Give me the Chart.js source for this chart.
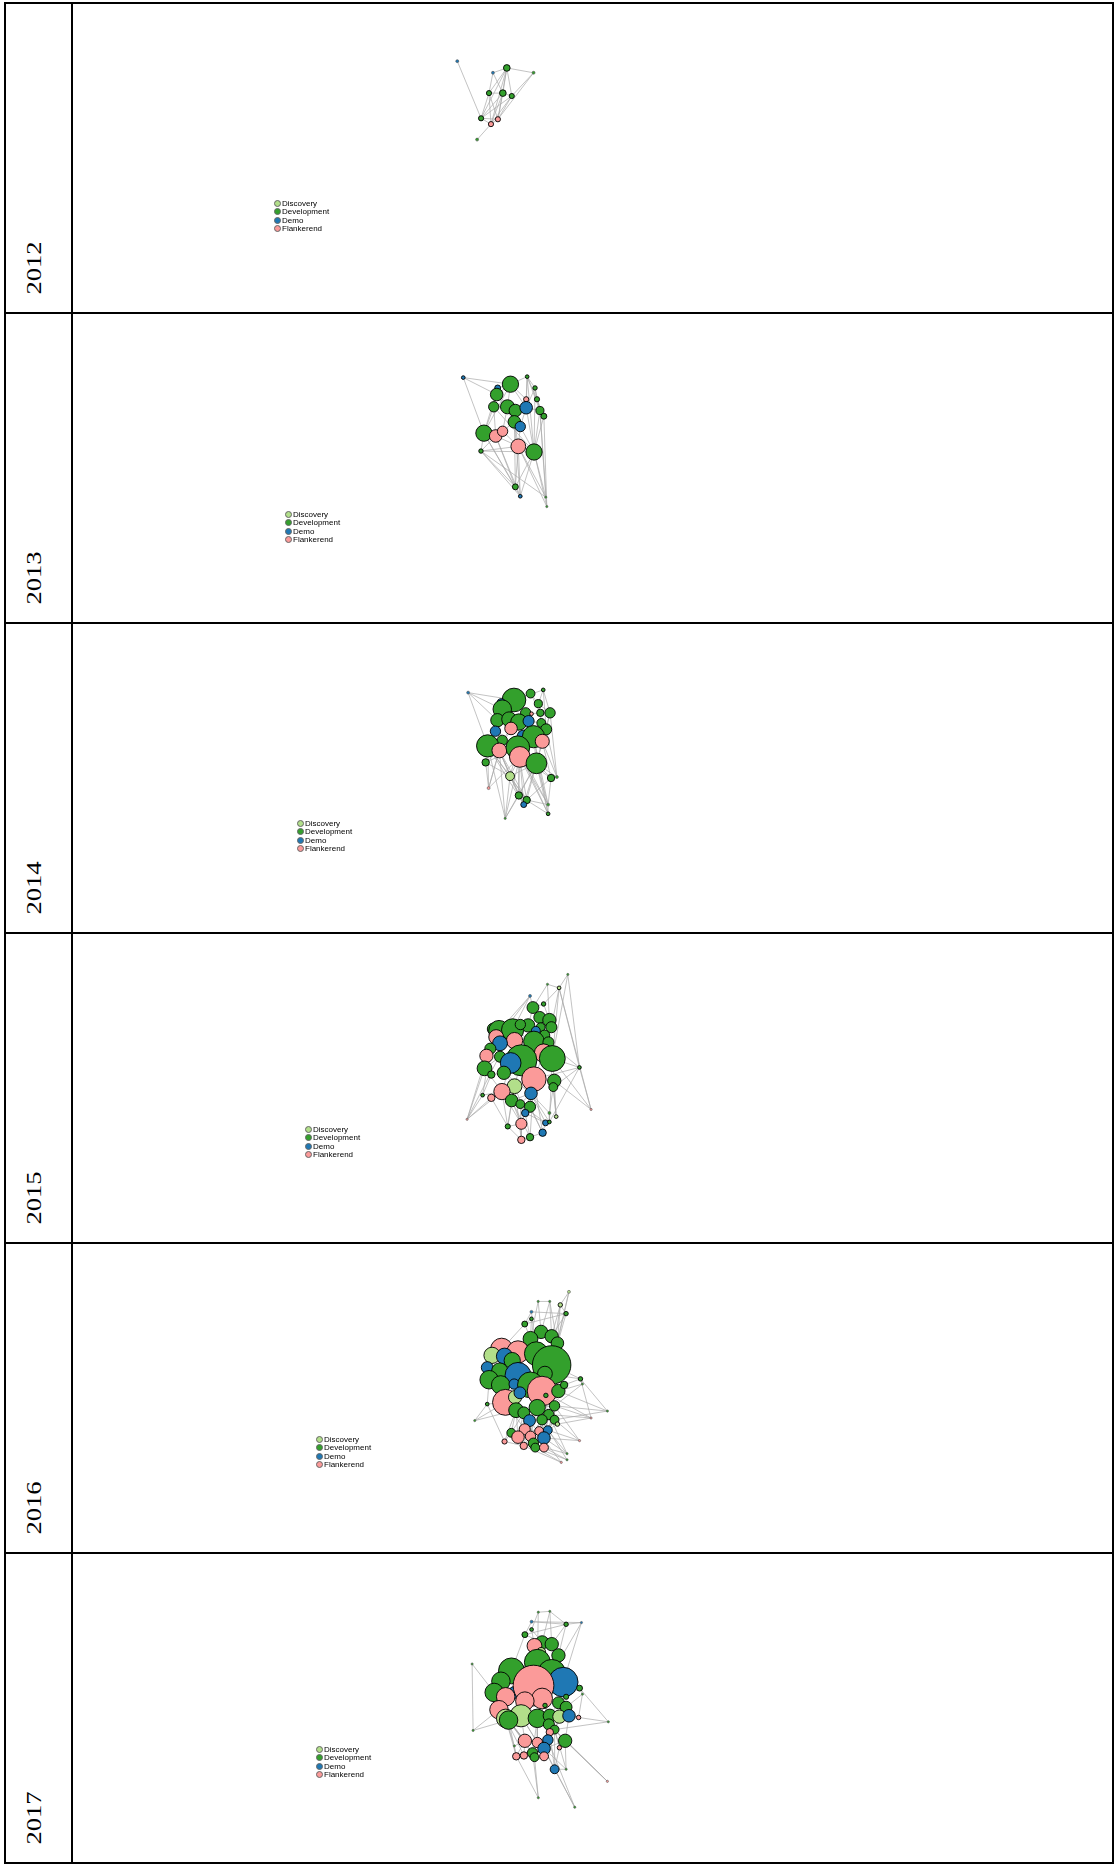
<!DOCTYPE html>
<html>
<head>
<meta charset="utf-8">
<script src="https://cdn.jsdelivr.net/npm/chart.js@4.4.1/dist/chart.umd.min.js"></script>
<style>
body{margin:0;background:#fff;}
#page{position:relative;width:1116px;height:1865px;overflow:hidden;}
.ln{position:absolute;background:#000;z-index:5;}
.pn{position:absolute;left:72px;width:1041px;height:310px;}
.yr{position:absolute;width:60px;height:24px;line-height:24px;text-align:center;font-family:"Liberation Serif","Times New Roman",serif;font-size:20px;color:#000;transform:rotate(-90deg) scaleX(1.33);}
.lg{position:absolute;font-family:"Liberation Sans",Arial,sans-serif;font-size:8px;line-height:8.3px;color:#000;z-index:3;}
.lg div{white-space:nowrap;}
.lg span{display:inline-block;width:7px;height:7px;border-radius:50%;border:0.7px solid #666;box-sizing:border-box;margin-right:1px;vertical-align:-1px;}
</style>
</head>
<body>
<div id="page"></div>
<script>
const years=['2012','2013','2014','2015','2016','2017'];
const categories=['Discovery','Development','Demo','Flankerend'];
const catColors=['#b2df8a','#33a02c','#1f78b4','#fb9a99'];

// node layout (x, y), weight and category per year; edges as node index pairs
const x2012=[384,434,420,461,416,430,439,408,425,418,404];
const y2012=[55,62,67,67,88,88,91,114,115,120,136];
const w2012=[4,9,4,4,7,9,7,7,7,7,4];
const c2012=[2,1,2,1,1,1,1,1,3,3,1];
const e2012=[[0,7],[1,2],[1,3],[1,4],[1,5],[1,6],[1,7],[1,8],[2,4],[2,5],[3,6],[3,8],[4,5],[4,7],[4,8],[4,9],[5,6],[5,7],[5,8],[5,9],[6,7],[6,8],[6,9],[7,8],[7,9],[8,9],[9,10],[1,9]];

const x2013=[389,437,454,424,423,462,453,464,420,434,442,453,467,471,441,447,410,422,429,445,461,407,442,447,473,474];
const y2013=[59,66,58,70,77,70,82,82,90,90,94,91,94,100,106,111,118,121,116,132,138,137,175,185,186,196];
const w2013=[5,22,5,8,17,6,7,7,14,19,17,17,11,8,17,14,22,17,14,20,22,6,8,5,3,3];
const c2013=[2,1,1,2,1,1,3,1,1,1,1,2,1,1,1,2,1,3,3,3,1,1,1,2,1,1];
const e2013=[[0,1],[0,16],[0,4],[1,2],[1,3],[1,4],[1,6],[1,9],[1,11],[2,5],[2,6],[2,7],[2,12],[3,4],[3,8],[4,8],[4,9],[4,10],[4,14],[5,7],[5,11],[6,11],[6,10],[7,12],[7,13],[8,9],[8,16],[8,17],[9,10],[9,14],[9,18],[10,11],[10,14],[11,12],[11,15],[11,20],[12,13],[12,20],[13,20],[14,15],[14,18],[14,19],[15,19],[15,20],[16,17],[16,18],[16,21],[17,18],[17,19],[18,19],[19,20],[21,20],[21,22],[21,23],[22,16],[22,19],[22,20],[23,17],[23,20],[23,14],[24,20],[24,21],[24,12],[25,20],[25,19],[25,13],[2,20],[5,20],[3,16],[8,20],[22,17],[22,14],[23,19],[23,16],[24,19],[25,12],[21,17],[21,19],[1,16],[2,11],[5,12]];

const x2014=[393,440,457,470,427,428,465,452,458,467,477,423,435,445,455,468,473,421,437,428,450,460,469,413,425,444,446,463,411,436,478,484,414,445,453,450,475,475,431];
const y2014=[62,70,63,59,73,80,74,84,85,84,84,92,91,94,93,95,102,104,101,114,110,110,115,120,125,122,132,139,138,153,155,154,166,174,179,184,184,194,199];
const w2014=[4,32,12,5,11,25,11,14,5,10,14,18,20,22,15,12,15,14,17,14,18,30,19,30,20,32,28,28,10,12,10,4,4,10,10,8,4,5,3];
const c2014=[2,1,1,1,2,1,1,1,3,1,1,1,1,1,2,1,1,2,3,1,2,1,3,1,3,1,3,1,1,0,1,1,3,1,1,2,1,1,1];
const e2014=[[0,1],[0,5],[0,23],[0,11],[1,2],[1,3],[1,4],[1,5],[1,7],[1,12],[2,6],[2,9],[3,6],[3,10],[3,16],[4,5],[4,11],[5,11],[5,12],[5,17],[6,9],[6,10],[7,8],[7,13],[7,14],[8,9],[9,10],[9,15],[10,16],[10,22],[11,12],[11,17],[11,19],[12,13],[12,18],[13,14],[13,20],[13,25],[14,15],[14,20],[14,21],[15,16],[15,21],[16,22],[16,27],[17,19],[17,23],[18,19],[18,24],[19,23],[19,24],[20,21],[20,25],[21,22],[21,27],[22,27],[23,24],[23,28],[24,25],[24,26],[25,26],[25,27],[26,27],[28,29],[28,32],[29,26],[29,33],[29,34],[29,24],[30,27],[30,31],[30,22],[30,34],[31,22],[31,16],[32,23],[32,19],[33,34],[33,35],[33,26],[34,27],[34,35],[35,24],[36,27],[36,30],[36,34],[37,27],[37,36],[37,21],[38,33],[38,29],[38,24],[38,23],[10,31],[28,25],[32,26],[35,27],[33,25],[36,25],[37,33],[29,27],[34,23],[33,27],[34,25],[35,26],[36,26],[37,26],[37,25],[38,26],[38,27],[33,24],[34,24],[35,23],[29,25],[29,23],[30,26],[32,24],[28,24],[31,27],[36,21]];

const x2015=[495,474,486,456,459,470,466,476,467,478,418,424,438,454,446,462,471,421,440,425,460,475,415,411,425,470,479,447,436,409,416,429,460,481,480,507,440,427,457,407,416,437,446,456,451,476,483,519,391,433,447,472,476,469,456,447];
const y2015=[28,39,43,52,65,61,76,79,87,87,89,91,90,85,84,91,96,98,102,105,103,104,111,119,120,116,122,124,127,133,140,138,145,147,154,132,153,159,161,163,166,169,173,176,183,183,187,179,190,198,195,194,193,205,210,213];
const w2015=[3,3,5,4,16,6,16,18,12,15,16,28,30,18,14,12,14,20,22,20,28,15,15,18,15,25,35,42,28,20,10,18,33,18,12,5,20,22,17,5,10,17,12,15,10,4,5,3,3,7,15,8,5,10,10,10];
const c2015=[1,1,0,2,1,1,1,1,1,1,1,1,1,1,1,2,1,3,3,2,1,1,1,3,1,3,1,1,2,1,1,1,3,1,1,1,0,3,2,1,3,1,1,1,2,1,0,3,3,1,3,2,1,2,1,3];
const e2015=[[0,2],[0,26],[0,35],[1,2],[1,7],[1,4],[2,5],[2,9],[2,26],[2,35],[3,4],[3,11],[3,22],[4,5],[4,6],[4,13],[5,7],[6,7],[6,8],[6,13],[7,9],[7,16],[8,9],[8,15],[9,16],[10,11],[10,17],[11,12],[11,17],[11,19],[12,13],[12,14],[12,18],[12,20],[13,15],[14,18],[15,20],[16,21],[16,25],[17,19],[17,22],[18,19],[18,27],[19,24],[20,21],[20,25],[20,27],[21,26],[22,23],[23,29],[24,28],[25,26],[26,33],[26,35],[27,28],[27,32],[28,31],[29,30],[30,31],[31,36],[32,33],[32,38],[33,34],[34,35],[34,46],[35,47],[35,21],[35,32],[35,52],[36,37],[36,41],[37,40],[37,39],[38,43],[38,42],[39,30],[39,48],[40,49],[41,42],[41,50],[42,43],[43,44],[44,50],[44,54],[45,33],[45,52],[46,34],[47,26],[47,33],[47,2],[48,29],[48,23],[48,40],[49,50],[50,55],[51,53],[51,44],[52,26],[53,54],[54,55],[55,49],[3,48],[29,37],[31,38],[36,44],[32,43],[27,36],[25,32],[28,37],[24,29],[22,39],[40,36],[42,51],[43,53],[49,41],[31,27],[49,37],[49,36],[50,38],[50,37],[53,43],[54,41],[55,42],[55,36],[51,38],[52,38],[45,38],[46,33],[44,37],[41,38],[42,37],[53,32],[54,32],[48,37]];

const x2016=[496,464,476,487,457,493,457,450,467,478,456,484,426,443,462,478,416,429,437,411,424,443,471,413,425,439,456,468,485,491,508,510,430,440,445,472,441,449,463,475,481,455,468,481,484,411,398,536,519,450,465,474,436,443,456,470,429,449,459,461,470,507,494,494,488];
const y2016=[33,44,44,48,56,58,64,70,79,84,87,92,99,102,104,117,106,107,112,120,124,129,127,134,140,139,140,147,147,140,133,139,160,154,149,152,169,172,166,174,164,181,180,180,185,162,181,170,178,191,193,192,195,200,199,201,205,210,207,212,212,204,219,226,229];
const w2016=[4,3,3,6,4,6,5,8,18,18,20,17,30,30,32,52,22,22,22,16,22,35,20,25,25,14,35,40,18,10,6,3,35,18,16,6,20,16,22,14,14,16,14,12,6,5,3,3,3,15,12,12,12,17,14,17,7,10,14,12,12,3,3,3,3];
const c2016=[0,1,1,0,2,1,1,1,1,1,1,1,3,3,1,1,0,2,1,2,1,2,1,1,1,2,1,3,1,1,1,1,3,0,2,1,1,1,1,1,1,2,1,1,0,1,1,1,3,3,3,2,1,3,3,2,3,3,1,1,3,3,1,1,3];
const e2016=[[0,3],[0,15],[0,11],[1,2],[1,10],[1,8],[2,8],[2,9],[2,11],[3,9],[3,11],[3,15],[3,5],[4,5],[4,7],[4,14],[5,7],[5,9],[5,15],[6,7],[6,10],[7,10],[7,12],[8,9],[8,10],[9,11],[10,14],[11,15],[12,13],[12,16],[12,17],[13,14],[13,18],[14,15],[14,22],[15,22],[15,28],[16,17],[16,19],[17,18],[17,20],[18,21],[19,20],[19,23],[20,21],[20,24],[21,25],[21,26],[22,26],[23,24],[23,32],[24,25],[25,34],[26,27],[27,28],[27,35],[28,29],[29,30],[30,31],[30,47],[30,48],[30,15],[30,22],[31,28],[31,40],[32,33],[32,36],[33,34],[33,37],[34,26],[35,38],[36,37],[37,38],[38,39],[38,40],[39,40],[39,42],[40,43],[41,42],[41,49],[42,43],[43,44],[44,51],[45,23],[45,32],[45,46],[46,32],[46,36],[47,28],[47,43],[48,40],[48,27],[48,44],[49,50],[49,53],[50,51],[50,54],[51,55],[52,53],[52,56],[53,54],[54,55],[55,60],[56,57],[57,58],[58,59],[59,60],[61,43],[61,51],[61,55],[62,55],[62,60],[62,39],[63,60],[63,42],[64,59],[64,41],[36,52],[37,49],[41,58],[42,51],[39,55],[32,49],[24,36],[26,38],[27,39],[21,32],[13,21],[22,29],[12,19],[56,45],[53,37],[57,41],[49,41],[50,42],[51,43],[52,37],[53,41],[54,42],[55,43],[56,36],[57,42],[58,43],[59,39],[60,40],[49,38],[50,39],[53,36],[54,38],[55,39],[58,37],[59,41],[60,42],[63,59],[64,57],[62,51],[61,40],[47,40],[48,39]];

const x2017=[464,476,457,493,509,457,450,468,460,478,467,485,395,463,436,478,490,425,418,439,459,430,468,450,507,510,493,485,493,471,423,446,430,433,463,476,486,496,506,475,481,476,396,537,450,463,474,492,470,486,458,460,470,449,441,481,493,439,536,464,502];
const y2017=[44,43,55,58,56,64,70,79,83,81,90,94,104,102,112,115,125,124,137,137,129,142,144,147,132,139,142,149,154,152,157,164,167,169,167,164,165,164,166,174,180,183,181,171,193,195,192,193,202,201,207,212,211,210,211,226,226,199,240,259,270];
const w2017=[3,3,4,6,3,5,8,18,20,18,12,18,3,35,35,38,40,25,25,16,55,25,28,25,8,3,7,16,16,6,25,30,25,25,25,18,18,17,6,15,12,10,3,3,18,14,14,18,17,6,14,12,12,10,10,12,3,3,3,3,3];
const c2017=[1,1,2,1,2,1,1,1,3,1,0,1,1,1,1,1,2,1,1,2,3,3,3,3,1,1,1,1,1,1,3,0,0,1,1,1,0,2,3,1,1,3,1,1,3,3,2,1,2,3,1,1,3,3,3,2,1,1,3,1,1];
const e2017=[[0,1],[0,13],[0,5],[1,7],[1,9],[1,3],[2,4],[2,3],[2,6],[3,4],[3,9],[3,11],[4,15],[4,16],[5,7],[5,8],[6,7],[6,14],[6,3],[7,8],[7,9],[8,10],[8,13],[9,11],[10,13],[11,15],[12,18],[12,42],[13,14],[13,15],[13,20],[14,17],[14,20],[15,16],[16,24],[16,26],[17,18],[17,19],[18,21],[18,30],[19,20],[20,22],[20,23],[21,23],[22,29],[23,31],[24,25],[24,43],[24,27],[25,28],[25,38],[26,27],[27,28],[28,37],[29,34],[30,32],[30,33],[31,34],[31,33],[32,33],[33,44],[34,35],[35,36],[36,37],[37,38],[38,43],[39,40],[39,41],[40,47],[41,46],[42,33],[42,30],[43,40],[44,45],[44,53],[45,46],[45,50],[46,48],[47,48],[47,56],[48,52],[49,47],[49,55],[50,51],[51,52],[53,54],[54,57],[55,56],[55,48],[56,40],[57,44],[58,47],[58,39],[59,50],[59,51],[60,48],[60,46],[31,44],[34,45],[32,54],[33,50],[35,46],[34,39],[23,34],[21,32],[22,35],[36,40],[37,47],[41,45],[44,46],[50,53],[31,45],[32,44],[29,39],[28,40],[27,35],[44,33],[45,34],[45,31],[46,35],[46,39],[48,39],[48,41],[50,34],[51,33],[52,39],[53,32],[54,33],[57,32],[55,40],[55,41],[52,41],[50,45],[51,46],[53,45],[54,44],[56,48],[47,39],[49,40],[58,40],[59,54],[60,55]];

const legendPos=[[274,197],[285,198],[297,197],[305,193],[316,193],[316,193]];

const panels=[
  [x2012,y2012,w2012,c2012,e2012],
  [x2013,y2013,w2013,c2013,e2013],
  [x2014,y2014,w2014,c2014,e2014],
  [x2015,y2015,w2015,c2015,e2015],
  [x2016,y2016,w2016,c2016,e2016],
  [x2017,y2017,w2017,c2017,e2017]
];

const page=document.getElementById('page');
const rowH=310, top0=3;

function addLine(l,t,w,h){
  const d=document.createElement('div');
  d.className='ln';
  d.style.left=l+'px';d.style.top=t+'px';d.style.width=w+'px';d.style.height=h+'px';
  page.appendChild(d);
}

years.forEach((yr,i)=>{
  const top=top0+i*rowH;
  const [xs,ys,ws,cs,es]=panels[i];

  const cv=document.createElement('canvas');
  cv.width=1041;cv.height=rowH;
  const box=document.createElement('div');
  box.className='pn';box.style.top=top+'px';
  box.appendChild(cv);
  page.appendChild(box);

  const nodes=xs.map((x,k)=>({x:x,y:ys[k],r:ws[k]*0.37}));
  const edgePts=[];
  es.forEach(([a,b])=>{
    edgePts.push({x:xs[a],y:ys[a]},{x:xs[b],y:ys[b]},{x:null,y:null});
  });

  new Chart(cv,{
    type:'bubble',
    data:{datasets:[
      {
        data:nodes,
        order:0,
        backgroundColor:cs.map(c=>catColors[c]),
        borderColor:ws.map(w=>w<=4?'#555':'#000'),
        borderWidth:ws.map(w=>w<=4?0.6:0.9),
        clip:false
      },
      {
        type:'line',
        data:edgePts,
        order:1,
        borderColor:'#a9a9a9',
        borderWidth:0.7,
        pointRadius:0,
        spanGaps:false,
        fill:false,
        clip:false
      }
    ]},
    options:{
      responsive:false,
      animation:false,
      events:[],
      layout:{padding:0},
      plugins:{legend:{display:false},tooltip:{enabled:false}},
      scales:{
        x:{type:'linear',min:0,max:1041,display:false},
        y:{type:'linear',min:0,max:rowH,reverse:true,display:false}
      }
    }
  });

  // legend
  const lg=document.createElement('div');
  lg.className='lg';
  lg.style.left=legendPos[i][0]+'px';
  lg.style.top=(top+legendPos[i][1])+'px';
  lg.innerHTML=categories.map((c,k)=>`<div><span style="background:${catColors[k]}"></span>${c}</div>`).join('');
  page.appendChild(lg);

  // year label
  const yl=document.createElement('div');
  yl.className='yr';
  yl.textContent=yr;
  yl.style.left=(34-30)+'px';
  yl.style.top=(top+265-12)+'px';
  page.appendChild(yl);

  addLine(4,top-1,1110,2);
});
addLine(4,top0+6*rowH-1,1110,2);
addLine(4,top0-1,2,6*rowH+2);
addLine(71,top0-1,2,6*rowH+2);
addLine(1112,top0-1,2,6*rowH+2);
</script>
</body>
</html>
